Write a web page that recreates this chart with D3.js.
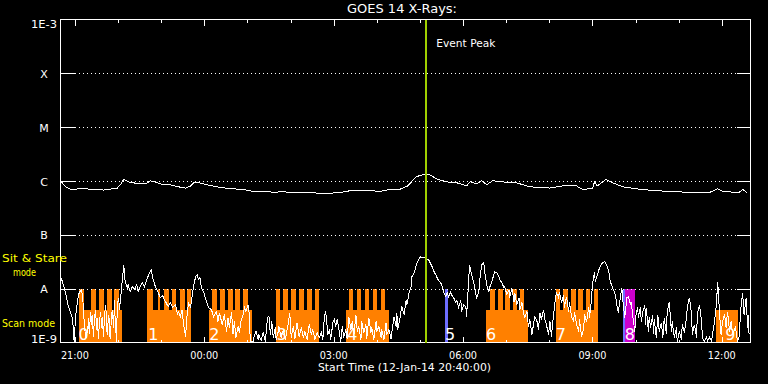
<!DOCTYPE html>
<html><head><meta charset="utf-8">
<script src="https://cdn.jsdelivr.net/npm/d3@7"></script>
<style>html,body{margin:0;padding:0;background:#000;} svg{display:block}</style>
</head><body>
<svg id="c" width="768" height="384"></svg>
<script>
// ---------------- DATA ----------------
const title = "GOES 14 X-Rays:";
const xTitle = "Start Time (12-Jan-14 20:40:00)";
const startTime = Date.UTC(2014, 0, 12, 20, 40);
const endTime = Date.UTC(2014, 0, 13, 12, 40);
const yTickValues = [1e-3, 1e-4, 1e-5, 1e-6, 1e-7, 1e-8, 1e-9];
const yTickLabels = ["1E-3", "X", "M", "C", "B", "A", "1E-9"];
const gridValues = [1e-4, 1e-5, 1e-6, 1e-7, 1e-8];
const eventPeakMin = 509;           // minutes after start
const eventLabel = "Event Peak";

// long channel (1-8 A): [minutes after start, flux in 1e-7 W/m^2]
const longChannel = [[1,9.7],[7,7.8],[14,7.0],[31,7.2],[60,6.8],[79,7.4],[83,8.4],[88,10.7],[93,9.9],[97,9.3],
[107,9.1],[118,8.8],[125,10.1],[132,9.6],[139,8.8],[153,8.5],[164,7.8],[174,7.4],[181,8.1],[186,9.5],
[192,9.3],[199,8.8],[208,8.3],[222,7.6],[236,7.2],[253,7.0],[268,6.4],[292,6.3],[296,6.1],[310,6.4],
[317,6.1],[333,6.1],[372,5.9],[389,6.1],[403,6.6],[421,6.8],[444,6.4],[454,6.8],[472,7.0],[483,8.1],
[495,12.0],[507,13.5],[514,12.9],[525,10.7],[538,9.6],[551,9.3],[565,8.1],[570,9.7],[579,8.8],[586,10.1],
[593,8.5],[601,10.1],[615,9.6],[634,9.3],[653,7.8],[681,7.4],[699,8.1],[718,8.1],[726,7.0],[740,7.2],
[743,9.6],[747,8.1],[759,10.7],[768,9.3],[782,7.8],[806,7.0],[829,6.6],[857,6.3],[885,6.1],[903,6.1],
[914,7.2],[921,6.4],[944,6.1],[949,7.0],[956,5.9]];
const longUnit = 1e-7;

// short channel (0.5-4 A): [minutes after start, flux in 1e-9 W/m^2]
const shortChannel = [[1,16.0],[7,8.43],[11,4.64],[17,2.67],[18,1.53],[19,1.04],[21,3.03],[24,6.25],[26,8.43],[29,9.58],
[31,6.81],[32,3.59],[35,1.14],[38,1.74],[39,2.90],[40,1.41],[42,3.75],[43,2.15],[44,3.30],[46,1.24],
[47,2.67],[49,4.08],[50,1.74],[51,2.90],[53,1.14],[54,2.45],[56,3.75],[57,1.90],[58,3.03],[60,1.24],
[61,3.16],[63,5.05],[64,2.15],[65,1.41],[67,3.30],[68,2.45],[69,1.14],[71,2.90],[72,4.08],[74,1.90],
[75,6.25],[76,2.67],[78,1.04],[79,5.05],[81,6.81],[82,4.08],[85,10.4],[88,27.8],[90,13.5],[93,10.4],
[94,11.9],[97,8.80],[100,10.9],[103,9.58],[106,11.9],[108,8.80],[111,10.9],[114,12.9],[117,10.9],[121,16.0],
[126,22.5],[129,14.7],[132,10.9],[136,8.43],[139,6.81],[142,7.41],[146,5.74],[150,4.64],[153,5.50],[156,4.45],
[160,5.05],[163,3.30],[164,3.75],[167,3.03],[169,4.08],[171,2.34],[174,1.29],[176,3.03],[178,5.50],[181,4.64],
[183,7.10],[185,10.9],[188,16.7],[190,18.2],[192,14.7],[194,16.0],[196,10.4],[199,8.80],[203,5.74],[206,4.45],
[210,4.08],[213,3.03],[217,3.75],[219,2.45],[221,3.59],[225,2.15],[228,3.30],[231,1.60],[233,2.90],[235,1.90],
[238,3.75],[240,1.41],[242,2.45],[244,1.24],[247,1.98],[249,1.53],[251,2.45],[254,3.30],[256,4.45],[258,3.75],
[261,5.05],[263,3.03],[264,1.04],[268,1.04],[269,1.24],[272,1.60],[275,1.14],[276,1.41],[279,1.09],[282,1.53],
[285,1.04],[288,2.90],[290,3.03],[292,1.41],[294,2.45],[296,1.24],[299,1.90],[300,1.14],[303,1.60],[304,1.98],
[307,1.24],[310,1.74],[313,1.14],[317,2.34],[319,3.59],[321,1.24],[324,1.98],[326,1.14],[329,2.34],[332,1.29],
[335,1.90],[338,1.24],[340,1.60],[343,1.14],[346,2.15],[349,1.41],[351,1.74],[354,1.14],[357,1.53],[360,1.24],
[363,1.53],[365,1.14],[367,2.90],[369,3.75],[372,1.41],[374,1.74],[376,1.14],[379,2.34],[381,2.67],[383,1.98],
[385,2.67],[388,1.53],[390,1.04],[392,1.98],[394,1.24],[397,1.74],[399,1.14],[401,3.03],[404,1.74],[406,2.45],
[408,1.29],[411,3.30],[413,1.60],[415,1.98],[418,1.14],[419,2.45],[422,1.53],[425,2.15],[426,1.14],[429,2.90],
[432,1.53],[433,1.90],[436,1.14],[439,2.45],[440,1.60],[443,1.98],[446,1.24],[447,1.74],[450,1.14],[453,2.34],
[454,1.41],[457,1.74],[460,1.14],[461,1.53],[464,3.03],[467,1.98],[468,3.59],[469,1.74],[472,2.67],[474,4.08],
[475,4.64],[478,3.30],[481,6.25],[482,5.05],[485,8.43],[488,10.9],[489,16.7],[492,19.8],[494,24.5],[496,30.3],
[499,35.9],[501,39.1],[506,37.5],[510,35.9],[513,33.0],[515,29.0],[517,25.5],[519,21.5],[522,18.2],[524,16.0],
[526,14.1],[529,12.9],[531,10.9],[533,8.80],[536,7.10],[538,8.43],[540,7.10],[543,8.80],[544,7.74],[547,6.81],
[550,5.50],[551,6.25],[554,4.45],[557,6.25],[558,3.75],[561,5.05],[564,4.64],[565,3.03],[568,14.7],[569,27.8],
[572,18.2],[575,12.9],[576,10.4],[579,6.81],[582,8.80],[583,13.5],[586,27.8],[589,30.3],[590,20.6],[593,11.9],
[596,8.80],[597,10.4],[600,13.5],[603,18.2],[604,20.6],[607,19.8],[610,16.7],[611,14.7],[614,12.9],[617,10.4],
[618,10.9],[621,7.74],[624,9.58],[625,6.81],[628,10.4],[631,5.74],[632,8.43],[635,5.05],[638,6.81],[639,4.08],
[642,5.50],[644,3.59],[646,2.90],[649,3.75],[651,1.98],[653,2.67],[656,1.41],[658,2.15],[660,3.03],[663,2.45],
[665,1.74],[667,3.59],[669,2.67],[672,4.08],[674,2.67],[676,2.15],[679,1.41],[681,2.45],[683,1.29],[686,3.30],
[688,5.74],[690,8.43],[693,6.81],[694,8.80],[697,5.50],[700,7.74],[701,4.45],[704,7.10],[707,3.75],[708,5.74],
[711,3.03],[714,2.45],[715,3.75],[718,2.15],[721,1.60],[722,2.67],[725,1.29],[728,1.90],[729,3.30],[732,2.45],
[735,4.64],[736,2.90],[739,6.81],[740,11.9],[743,20.6],[744,13.5],[747,18.2],[750,24.5],[754,30.3],[757,31.6],
[760,27.8],[763,19.8],[765,13.5],[768,10.4],[772,7.74],[774,5.05],[776,3.59],[779,6.81],[781,10.4],[782,6.81],
[785,2.90],[786,3.75],[788,6.81],[790,7.10],[793,5.05],[794,5.74],[796,3.30],[799,1.60],[801,3.59],[803,4.45],
[804,2.90],[807,4.64],[808,2.45],[810,3.59],[813,5.05],[814,2.15],[815,4.45],[818,1.60],[819,3.03],[821,1.90],
[824,3.30],[825,1.41],[826,2.67],[829,1.24],[831,3.30],[833,1.60],[836,2.34],[838,1.24],[840,2.90],[843,1.41],
[844,3.59],[847,5.74],[850,1.60],[851,2.45],[854,1.24],[857,1.90],[858,1.04],[861,1.60],[864,1.14],[865,2.15],
[868,1.53],[871,2.90],[872,4.45],[875,6.81],[878,3.30],[879,1.41],[882,2.15],[885,1.24],[886,3.30],[889,5.05],
[892,2.45],[893,1.24],[896,1.04],[899,1.29],[900,1.04],[903,1.24],[906,1.04],[907,1.41],[910,2.45],[913,5.74],
[914,13.5],[915,10.4],[917,3.30],[919,1.41],[921,2.45],[924,3.30],[926,1.90],[928,3.75],[931,1.60],[933,2.45],
[935,1.41],[939,1.90],[942,1.04],[944,1.24],[947,5.05],[949,8.43],[951,3.30],[954,6.81],[956,1.90],[957,3.30],
[958,1.41]];
const shortUnit = 1e-9;

// observing modes (minutes after start)
const scanStart  = [26, 121, 207, 300, 397, 592, 689, 912];
const scanEnd    = [86, 182, 266, 360, 457, 651, 748, 943];
const stareStart = [26,42,53,64,75, 121,135,144,155,166,176, 211,222,233,243,254, 300,310,321,332,343,354, 401,413,424,435,446, 598,608,618,629,639, 689,699,710,720,731,742];
const stareEnd   = [33,49,60,71,82, 128,139,151,161,173,182, 218,229,240,250,261, 306,317,328,339,350,360, 407,418,429,440,451, 605,615,625,635,645, 695,706,717,727,737,748];
const blueStart  = [535, 783];
const blueEnd    = [539, 786];
const magStart   = [786];
const magEnd     = [799];
const obsLabels  = ["0","1","2","3","4","5","6","7","8","9"];
const obsLabelT  = [25, 122, 207, 301, 399, 535, 592, 689, 785, 925];

const modeLabels = [["Sit & Stare", 2, 262, 65], ["mode", 13, 276, 23], ["Scan mode", 2, 327, 53]];

// ---------------- DRAW ----------------
const W = 768, H = 384;
const L = 60.5, R = 750.5, T = 19.5, B = 342.5;
const svg = d3.select("#c");
const font = "DejaVu Sans, sans-serif";
const tm = m => new Date(startTime + m * 60000);

const x = d3.scaleUtc().domain([new Date(startTime), new Date(endTime)]).range([L, R]);
const y = d3.scaleLog().domain([1e-9, 1e-3]).range([B, T]);

svg.append("rect").attr("width", W).attr("height", H).attr("fill", "#000");

svg.append("clipPath").attr("id", "plot").append("rect")
  .attr("x", L).attr("y", T).attr("width", R - L).attr("height", B - T);
const g = svg.append("g").attr("clip-path", "url(#plot)");

const stareTop = y(1e-8), scanTop = y(4.1e-9);
const orange = "#ff8000";
// scan mode (short) bars
g.selectAll(".scan").data(scanStart).join("rect")
  .attr("x", (d) => x(tm(d))).attr("y", scanTop)
  .attr("width", (d, i) => x(tm(scanEnd[i])) - x(tm(d))).attr("height", B - scanTop)
  .attr("fill", orange).attr("shape-rendering", "crispEdges");
// sit & stare (tall) bars
g.selectAll(".stare").data(stareStart).join("rect")
  .attr("x", (d) => x(tm(d))).attr("y", stareTop)
  .attr("width", (d, i) => x(tm(stareEnd[i])) - x(tm(d))).attr("height", B - stareTop)
  .attr("fill", orange).attr("shape-rendering", "crispEdges");
g.selectAll(".blue").data(blueStart).join("rect")
  .attr("x", (d) => x(tm(d))).attr("y", stareTop)
  .attr("width", (d, i) => x(tm(blueEnd[i])) - x(tm(d))).attr("height", B - stareTop)
  .attr("fill", "#6e6eff").attr("shape-rendering", "crispEdges");
g.selectAll(".mag").data(magStart).join("rect")
  .attr("x", (d) => x(tm(d))).attr("y", stareTop)
  .attr("width", (d, i) => x(tm(magEnd[i])) - x(tm(d))).attr("height", B - stareTop)
  .attr("fill", "#cc00cc").attr("shape-rendering", "crispEdges");

// observation numbers
g.selectAll(".obs").data(obsLabels).join("text")
  .attr("x", (d, i) => x(tm(obsLabelT[i]))).attr("y", 339.5)
  .attr("fill", "#fff").attr("font-family", font).attr("font-size", 16)
  .text(d => d);

// dotted grid
svg.selectAll(".grid").data(gridValues).join("line")
  .attr("x1", L + 14).attr("x2", R - 14)
  .attr("y1", d => Math.round(y(d)) + 0.5).attr("y2", d => Math.round(y(d)) + 0.5)
  .attr("stroke", "#fff").attr("stroke-width", 1).attr("stroke-dasharray", "1,3")
  .attr("shape-rendering", "crispEdges");
// y ticks both sides
svg.selectAll(".ytl").data(gridValues).join("line")
  .attr("x1", L).attr("x2", L + 14)
  .attr("y1", d => Math.round(y(d)) + 0.5).attr("y2", d => Math.round(y(d)) + 0.5)
  .attr("stroke", "#fff").attr("shape-rendering", "crispEdges");
svg.selectAll(".ytr").data(gridValues).join("line")
  .attr("x1", R - 14).attr("x2", R)
  .attr("y1", d => Math.round(y(d)) + 0.5).attr("y2", d => Math.round(y(d)) + 0.5)
  .attr("stroke", "#fff").attr("shape-rendering", "crispEdges");

// data lines
const lineLong = d3.line().x(d => x(tm(d[0]))).y(d => y(d[1] * longUnit));
const lineShort = d3.line().x(d => x(tm(d[0]))).y(d => y(Math.max(d[1] * shortUnit, 1e-9)));
g.append("path").datum(longChannel).attr("d", lineLong)
  .attr("fill", "none").attr("stroke", "#fff").attr("stroke-width", 1).attr("shape-rendering", "crispEdges");
g.append("path").datum(shortChannel).attr("d", lineShort)
  .attr("fill", "none").attr("stroke", "#fff").attr("stroke-width", 1).attr("shape-rendering", "crispEdges");

// frame
svg.append("rect").attr("x", L).attr("y", T).attr("width", R - L).attr("height", B - T)
  .attr("fill", "none").attr("stroke", "#fff").attr("shape-rendering", "crispEdges");

// x ticks (hourly, major every 3 h)
const hours = d3.utcHour.range(new Date(startTime), new Date(endTime + 1));
const isMajor = d => d.getUTCHours() % 3 === 0;
svg.selectAll(".xtt").data(hours).join("line")
  .attr("x1", d => Math.round(x(d)) + 0.5).attr("x2", d => Math.round(x(d)) + 0.5)
  .attr("y1", T).attr("y2", d => T + (isMajor(d) ? 6 : 3))
  .attr("stroke", "#fff").attr("shape-rendering", "crispEdges");
svg.selectAll(".xtb").data(hours).join("line")
  .attr("x1", d => Math.round(x(d)) + 0.5).attr("x2", d => Math.round(x(d)) + 0.5)
  .attr("y1", B).attr("y2", d => B - (isMajor(d) ? 6 : 3))
  .attr("stroke", "#fff").attr("shape-rendering", "crispEdges");
const fmt = d3.utcFormat("%H:%M");
svg.selectAll(".xl").data(hours.filter(isMajor)).join("text")
  .attr("x", d => x(d) - 14).attr("y", 359)
  .attr("textLength", 28).attr("lengthAdjust", "spacingAndGlyphs")
  .attr("fill", "#fff").attr("font-family", font).attr("font-size", 11)
  .text(d => fmt(d));

// y labels
yTickValues.forEach((v, i) => {
  const lab = yTickLabels[i];
  const t = svg.append("text").attr("fill", "#fff").attr("font-family", font).attr("font-size", 11).text(lab);
  if (lab.length > 1) {
    const base = i === 0 ? y(v) + 8 : y(v) + 0.5;
    t.attr("x", 31).attr("y", base).attr("textLength", 26).attr("lengthAdjust", "spacingAndGlyphs");
  } else {
    t.attr("x", 44).attr("y", y(v) + 4.5).attr("text-anchor", "middle");
  }
});

// mode labels (yellow)
modeLabels.forEach(([s, lx, ly, len]) => {
  svg.append("text").attr("x", lx).attr("y", ly).attr("fill", "#ffff00")
    .attr("font-family", font).attr("font-size", 11)
    .attr("textLength", len).attr("lengthAdjust", "spacingAndGlyphs").text(s);
});

// event peak
const ex = x(tm(eventPeakMin));
svg.append("line").attr("x1", ex).attr("x2", ex).attr("y1", T).attr("y2", B)
  .attr("stroke", "#a0d000").attr("stroke-width", 2).attr("shape-rendering", "crispEdges");
svg.append("text").attr("x", ex + 10).attr("y", 47).attr("fill", "#fff")
  .attr("font-family", font).attr("font-size", 11)
  .attr("textLength", 59).attr("lengthAdjust", "spacingAndGlyphs").text(eventLabel);

// titles
svg.append("text").attr("x", 347).attr("y", 13).attr("fill", "#fff")
  .attr("font-family", font).attr("font-size", 12)
  .attr("textLength", 110).attr("lengthAdjust", "spacingAndGlyphs").text(title);
svg.append("text").attr("x", 318).attr("y", 371).attr("fill", "#fff")
  .attr("font-family", font).attr("font-size", 11)
  .attr("textLength", 173).attr("lengthAdjust", "spacingAndGlyphs").text(xTitle);
</script>
</body></html>
